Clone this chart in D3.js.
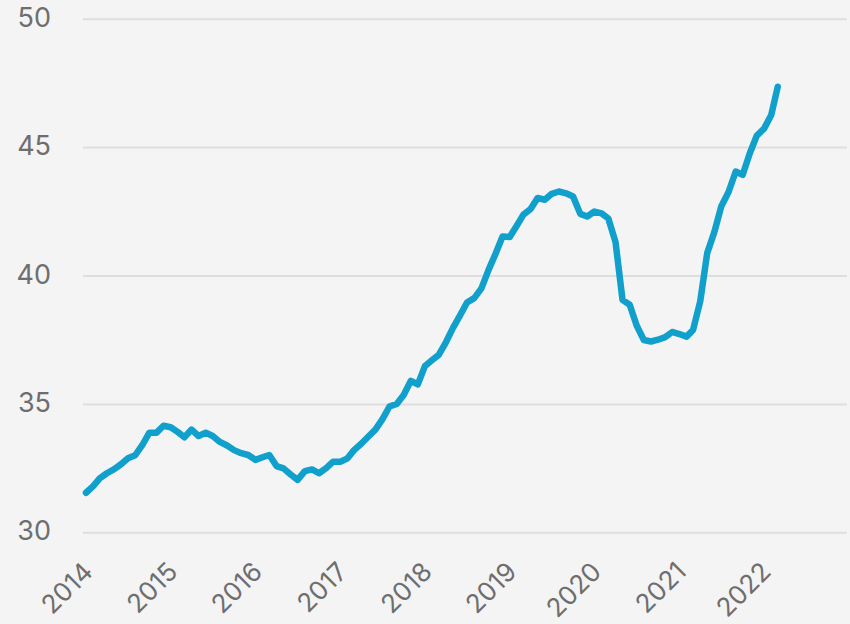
<!DOCTYPE html>
<html>
<head>
<meta charset="utf-8">
<script src="https://cdn.jsdelivr.net/npm/d3@7"></script>
<style>
  html, body { margin: 0; padding: 0; background: #f4f4f4; }
  #chart { width: 850px; height: 624px; }
  .tick text { font-family: Inter, "Liberation Sans", sans-serif; fill: #6e6e6e; }
</style>
</head>
<body>
<div id="chart"></div>
<script>
// monthly values, Jan 2014 .. Mar 2022
var firstYear = 2014;
var values = [
  31.54, 31.80, 32.10, 32.30, 32.45, 32.65, 32.88, 33.00, 33.40, 33.88, 33.88, 34.15, // 2014
  34.09, 33.90, 33.70, 34.00, 33.75, 33.88, 33.75, 33.52, 33.38, 33.20, 33.08, 33.01, // 2015
  32.82, 32.92, 33.01, 32.58, 32.49, 32.25, 32.04, 32.38, 32.45, 32.30, 32.50, 32.75, // 2016
  32.75, 32.88, 33.20, 33.45, 33.72, 34.00, 34.40, 34.90, 35.00, 35.35, 35.90, 35.76, // 2017
  36.48, 36.71, 36.91, 37.40, 37.95, 38.45, 38.95, 39.12, 39.50, 40.20, 40.85, 41.52, // 2018
  41.50, 41.95, 42.37, 42.59, 43.02, 42.95, 43.18, 43.27, 43.20, 43.08, 42.40, 42.30, // 2019
  42.49, 42.42, 42.22, 41.30, 39.05, 38.86, 38.05, 37.49, 37.43, 37.50, 37.60, 37.80, // 2020
  37.72, 37.62, 37.88, 39.00, 40.87, 41.70, 42.70, 43.25, 44.05, 43.92, 44.77, 45.45, // 2021
  45.72, 46.25, 47.35                                                                  // 2022
];
var yearLabels = ["2014", "2015", "2016", "2017", "2018", "2019", "2020", "2021", "2022"];
var yTicks = [30, 35, 40, 45, 50];

var width = 850, height = 624;
var plot = {left: 83, right: 847, top: 18.7, bottom: 532.3};

var data = values.map(function (v, i) {
    return {date: new Date(firstYear, i, 1), value: v};
});

var x = d3.scaleTime()
    .domain([new Date(2014, 0, 1), new Date(2023, 0, 1)])
    .range([86, 848.75]);
var y = d3.scaleLinear()
    .domain([30, 50])
    .range([plot.bottom, plot.top]);

var svg = d3.select("#chart").append("svg")
    .attr("width", width)
    .attr("height", height);

// y axis with gridlines
var yAxis = svg.append("g")
    .attr("transform", "translate(" + plot.left + ",0)")
    .call(d3.axisLeft(y)
        .tickValues(yTicks)
        .tickSize(-(plot.right - plot.left))
        .tickPadding(32));
yAxis.select(".domain").remove();
yAxis.selectAll(".tick line")
    .attr("stroke", "#dedede")
    .attr("stroke-width", 2);
yAxis.selectAll(".tick text")
    .attr("font-size", 27)
    .attr("dy", "0.28em");

// x axis, rotated year labels
var xAxis = svg.append("g")
    .attr("transform", "translate(0," + plot.bottom + ")")
    .call(d3.axisBottom(x)
        .tickValues(yearLabels.map(function (s) { return new Date(+s, 0, 1); }))
        .tickFormat(function (d, i) { return yearLabels[i]; })
        .tickSize(0));
xAxis.select(".domain").remove();
xAxis.selectAll(".tick text")
    .attr("font-size", 26)
    .attr("text-anchor", "end")
    .attr("y", 0)
    .attr("dy", 0)
    .attr("transform", "translate(8,41) rotate(-45)");

// the series
var line = d3.line()
    .x(function (d) { return x(d.date); })
    .y(function (d) { return y(d.value); });

svg.append("path")
    .datum(data)
    .attr("d", line)
    .attr("fill", "none")
    .attr("stroke", "#11a0cc")
    .attr("stroke-width", 6.5)
    .attr("stroke-linejoin", "round")
    .attr("stroke-linecap", "round");
</script>
</body>
</html>
